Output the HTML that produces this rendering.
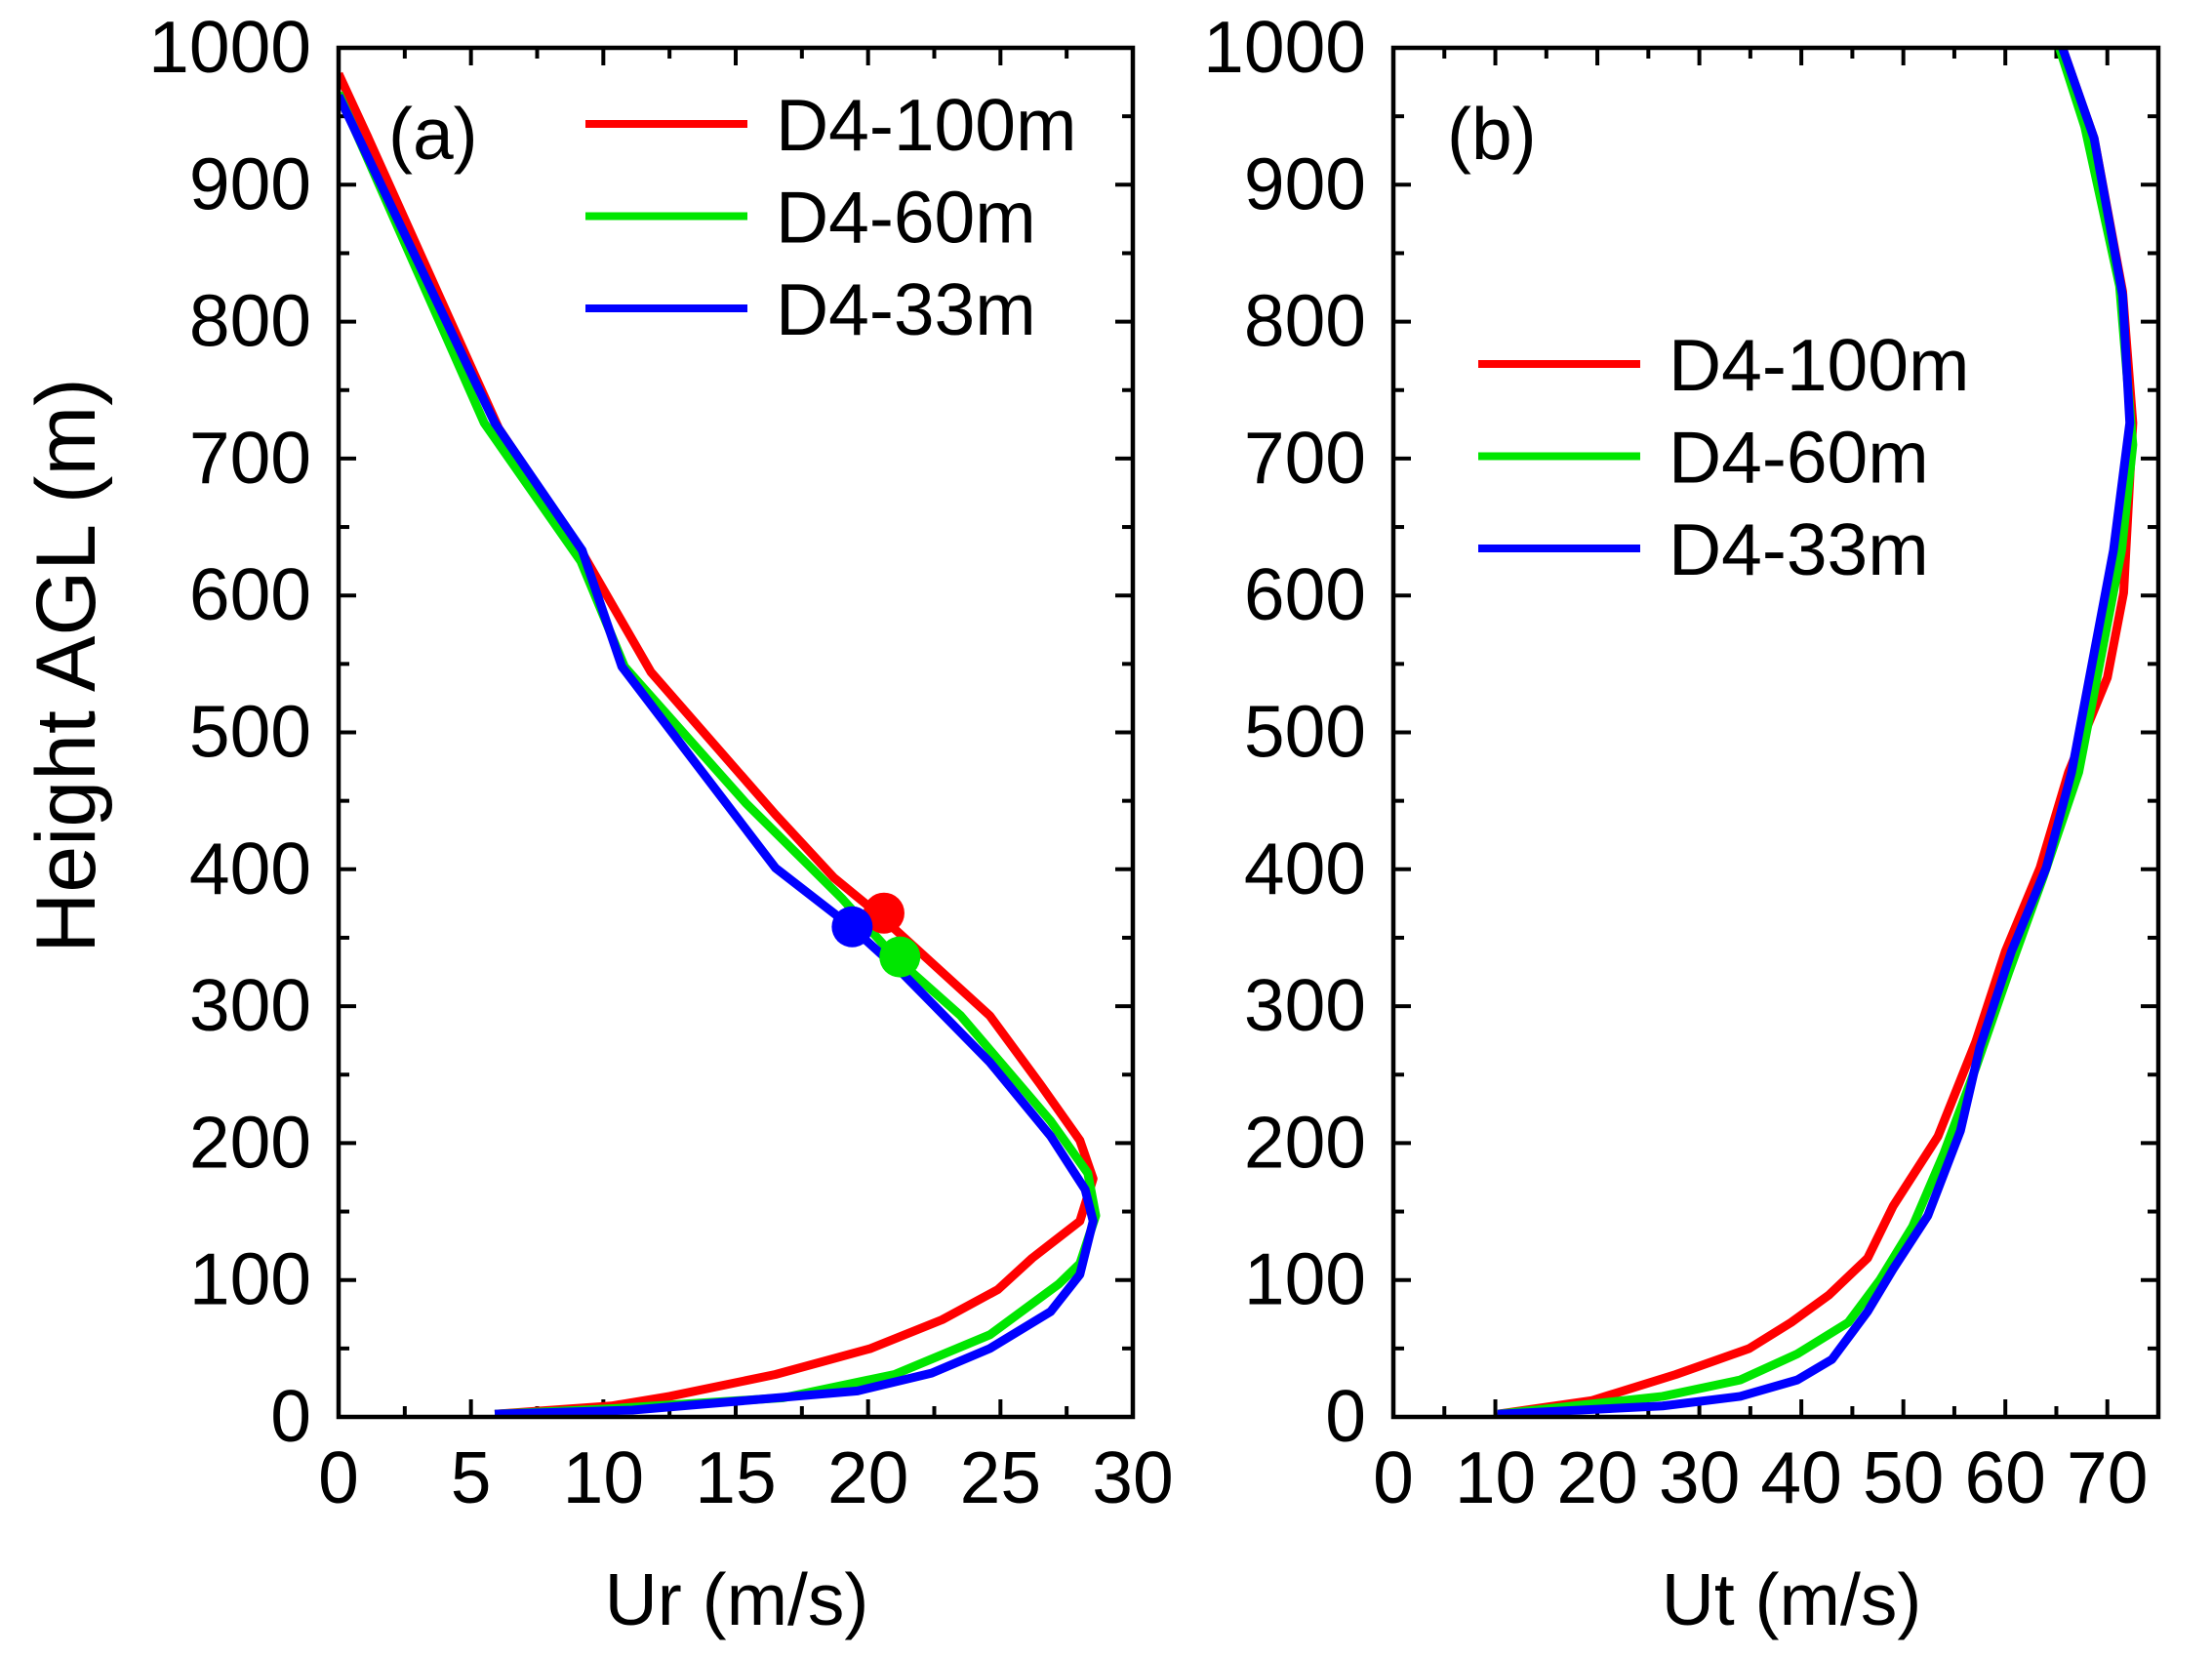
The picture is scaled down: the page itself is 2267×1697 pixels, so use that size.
<!DOCTYPE html>
<html><head><meta charset="utf-8"><style>
html,body{margin:0;padding:0;background:#fff}
svg{display:block}
text{font-family:"Liberation Sans",Arial,sans-serif;font-size:75px;fill:#000}
</style></head><body>
<svg id="chart" width="2267" height="1697" viewBox="0 0 2267 1697" xmlns="http://www.w3.org/2000/svg"></svg>
<script>
const seriesNames = ['D4-100m','D4-60m','D4-33m'];
const seriesColors = ['#ff0000','#00e600','#0000ff'];
// Panel (a): Ur (m/s) vs height (m)
const urRed = [[0,981],[1.1,935],[6.05,722],[9.15,633],[11.8,544],[16.5,440],[18.7,394],[20.4,367],[24.6,293],[26.5,243],[28,202],[28.5,174],[28,143],[26.2,116],[24.9,93],[22.8,71],[20.1,50],[16.5,31],[12.5,15],[10.3,8],[5.9,2]];
const urGreen = [[0,967],[5.5,726],[9.15,625],[10.8,548],[15.4,448],[19,379],[21,336],[23.5,293],[26.9,216],[28.3,178],[28.6,147],[28,112],[27.2,97],[24.6,60],[21,31],[16.8,14],[10.3,6],[5.9,2]];
const urBlue = [[0,965],[5.9,726],[9.2,633],[10.7,548],[16.5,401],[19.3,359],[21.3,324],[24.6,259],[26.9,205],[28.2,166],[28.5,143],[28,104],[26.9,77],[24.6,50],[22.4,32],[19.6,19],[15.4,12],[11.1,5],[5.9,2]];
const urMarkers = [[20.6,368],[21.2,336],[19.4,358]];
// Panel (b): Ut (m/s) vs height (m)
const utRed = [[65.6,1000],[68.7,934],[71.5,822],[72.5,726],[71.6,602],[70,540],[66.2,471],[63.4,401],[60,340],[57.1,274],[53.4,205],[49,154],[46.5,116],[42.7,89],[39,69],[34.9,50],[27.7,31],[19.5,12],[10.2,2]];
const utGreen = [[65.3,1000],[67.8,942],[71.2,826],[72.5,710],[71.4,633],[67.2,471],[63.7,394],[60.3,324],[57.1,255],[54,193],[50.9,139],[47.7,100],[44.6,69],[39.6,46],[34,27],[26.4,15],[17.7,8],[10.2,2]];
const utBlue = [[65.6,1000],[68.7,934],[71.5,819],[72.2,726],[70.6,633],[66.5,471],[64,401],[60.6,340],[57.5,270],[55.6,209],[52.4,147],[49,108],[46.5,77],[43,42],[39.6,27],[34,15],[26.4,8],[10.2,2]];
const yTicks = [0,100,200,300,400,500,600,700,800,900,1000];
const urTicks = [0,5,10,15,20,25,30];
const utTicks = [0,10,20,30,40,50,60,70];

const NS='http://www.w3.org/2000/svg';
const svg=document.getElementById('chart');
function mk(tag,attrs,parent){const e=document.createElementNS(NS,tag);for(const k in attrs)e.setAttribute(k,attrs[k]);(parent||svg).appendChild(e);return e;}

function panel(cfg){
  const g=mk('g',{});
  
  
  const L=cfg.left,R=cfg.right,T=49,B=1452;
  const xs=v=>L+(v-cfg.xmin)/(cfg.xmax-cfg.xmin)*(R-L);
  const ys=v=>B-(v/1000)*(B-T);
  for(let v=0;v<=1000;v+=50){
    const major=v%100===0, len=major?18:11, y=ys(v);
    const t1=mk('line',{x1:L,y1:y,x2:L+len,y2:y,stroke:'#000','stroke-width':4},g);
    
    
    const t2=mk('line',{x1:R,y1:y,x2:R-len,y2:y,stroke:'#000','stroke-width':4},g);
    
    
  }
  for(let v=cfg.xmin;v<=cfg.xmax+1e-9;v+=cfg.minor){
    const major=Math.abs(v/cfg.major-Math.round(v/cfg.major))<1e-6, len=major?18:11, x=xs(v);
    const t1=mk('line',{x1:x,y1:B,x2:x,y2:B-len,stroke:'#000','stroke-width':4},g);
    
    
    const t2=mk('line',{x1:x,y1:T,x2:x,y2:T+len,stroke:'#000','stroke-width':4},g);
    
    
  }
  yTicks.forEach(v=>{
    const t=mk('text',{x:L-28,y:ys(v)+25,'text-anchor':'end'},g);t.textContent=v;
    
    
  });
  cfg.xticks.forEach(v=>{
    const t=mk('text',{x:xs(v),y:1540,'text-anchor':'middle'},g);t.textContent=v;
    
    
  });
  const xt=mk('text',{x:cfg.titleX,y:1665,'text-anchor':'middle'},g);xt.textContent=cfg.xtitle;
  
  
  const pl=mk('text',{x:cfg.labelX,y:163},g);pl.textContent=cfg.label;
  
  
  const clip=mk('clipPath',{id:'clip'+cfg.label.replace(/\W/g,'')},g);
  mk('rect',{x:L,y:T,width:R-L,height:B-T},clip);
  cfg.series.forEach((s,i)=>{
    const p=mk('polyline',{points:s.map(d=>xs(d[0])+','+ys(d[1])).join(' '),fill:'none',stroke:seriesColors[i],'stroke-width':9,'stroke-linejoin':'round','clip-path':'url(#'+clip.id+')'},g);
    
    
  });
  if(cfg.markers){
    cfg.markers.forEach((m,i)=>{
      const c=mk('circle',{cx:xs(m[0]),cy:ys(m[1]),r:21,fill:seriesColors[i]},g);
      
      
    });
  }
  const fr=mk('rect',{x:L,y:T,width:R-L,height:B-T,fill:'none',stroke:'#000','stroke-width':4.5},g);
  
  
  const lg=mk('g',{},g);
  
  
  seriesNames.forEach((n,i)=>{
    const y=cfg.legY+i*94.5;
    const ln=mk('line',{x1:cfg.legX,y1:y,x2:cfg.legX+166,y2:y,stroke:seriesColors[i],'stroke-width':8},lg);
    
    
    const t=mk('text',{x:cfg.legX+195,y:y+27},lg);t.textContent=n;
    
    
  });
}
panel({name:'panel-a',left:347,right:1161,xmin:0,xmax:30,major:5,minor:2.5,xticks:urTicks,xtitle:'Ur (m/s)',titleX:755,label:'(a)',labelX:398,series:[urRed,urGreen,urBlue],markers:urMarkers,legX:600,legY:127});
panel({name:'panel-b',left:1428,right:2212,xmin:0,xmax:75,major:10,minor:5,xticks:utTicks,xtitle:'Ut (m/s)',titleX:1836,label:'(b)',labelX:1483,series:[utRed,utGreen,utBlue],legX:1515,legY:373});
const yt=mk('text',{x:0,y:0,'text-anchor':'middle',style:'font-size:86px',transform:'translate(97,682) rotate(-90)'});
yt.textContent='Height AGL (m)';


</script>
</body></html>
